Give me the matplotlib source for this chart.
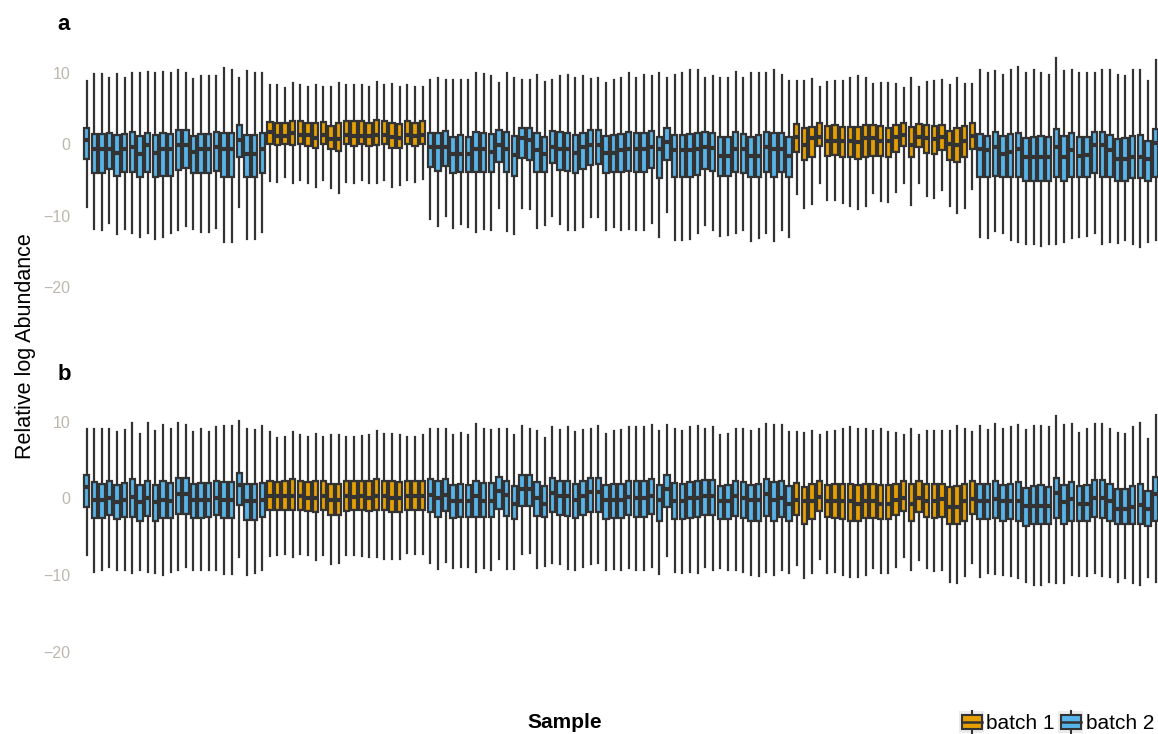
import matplotlib
matplotlib.use("Agg")
import matplotlib.pyplot as plt
from matplotlib.patches import Rectangle
from matplotlib.lines import Line2D
from matplotlib.legend_handler import HandlerBase

plt.rcParams['font.family'] = ['Liberation Sans', 'DejaVu Sans']

# ---------------- data ----------------
batch = [2]*24 + [1]*21 + [2]*48 + [1]*24 + [2]*24

# panel a
a_hi = [8.8, 9.8, 9.8, 9.2, 9.8, 9.3, 10.0, 9.9, 10.1, 10.0, 10.1, 10.0, 10.3, 10.0, 9.1, 9.5, 9.5, 9.5, 10.7, 10.4, 9.3, 10.2, 10.0, 9.9,
        8.3, 8.2, 7.9, 8.5, 8.2, 8.0, 8.3, 8.0, 8.0, 8.5, 8.2, 8.3, 8.2, 8.0, 8.7, 8.2, 8.4, 8.0, 8.3, 8.0, 8.0,
        9.0, 9.3, 9.0, 9.0, 9.0, 9.0, 9.9, 9.8, 9.5, 8.5, 10.0, 9.3, 9.0, 9.0, 9.6, 8.7, 9.0, 9.5, 9.7, 9.3, 9.5, 9.1, 9.2, 8.5,
        9.0, 9.3, 9.9, 9.3, 9.7, 9.5, 9.9, 9.3, 9.7, 10.0, 10.4, 10.3, 9.3, 9.5, 9.3, 9.3, 10.1, 9.3, 10.0, 10.0, 10.0, 10.3, 9.7, 8.8,
        8.8, 8.8, 9.1, 8.0, 8.7, 8.8, 8.8, 9.2, 9.5, 9.3, 8.4, 8.5, 8.5, 8.4, 7.9, 9.2, 8.0, 8.7, 8.8, 9.0, 8.3, 9.3, 8.4, 8.4,
        10.4, 10.0, 10.2, 9.7, 10.3, 10.8, 9.9, 10.4, 10.0, 9.7, 12.0, 10.2, 10.3, 9.9, 9.9, 9.9, 10.4, 10.3, 9.6, 9.5, 10.3, 10.3, 8.8, 11.7]
a_q3 = [2.2, 1.35, 1.35, 1.5, 1.26, 1.35, 1.7, 1.07, 1.6, 1.26, 1.6, 1.35, 1.96, 1.96, 1.07, 1.4, 1.35, 1.7, 1.5, 1.5, 2.6, 1.2, 1.2, 1.5,
        3.1, 3.0, 3.0, 3.26, 3.26, 3.0, 3.0, 3.1, 2.5, 2.9, 3.2, 3.2, 3.2, 3.0, 3.3, 3.2, 3.0, 2.8, 3.26, 3.0, 3.2,
        1.6, 1.5, 1.86, 1.0, 1.2, 1.0, 1.68, 1.5, 1.35, 1.96, 1.68, 1.07, 2.3, 2.2, 1.5, 0.93, 1.8, 1.68, 1.5, 1.26, 1.5, 1.96, 1.96, 1.1,
        1.2, 1.4, 1.68, 1.5, 1.5, 1.8, 1.0, 2.3, 1.3, 1.2, 1.35, 1.5, 1.68, 1.5, 1.0, 1.0, 1.68, 1.35, 1.0, 1.2, 1.68, 1.5, 1.5, 0.93,
        2.8, 2.2, 2.4, 3.0, 2.5, 2.6, 2.4, 2.4, 2.4, 2.6, 2.6, 2.5, 2.3, 2.6, 3.0, 2.4, 2.8, 2.6, 2.5, 2.6, 1.86, 2.3, 2.5, 2.9,
        1.35, 1.1, 1.68, 1.1, 1.35, 1.5, 0.8, 1.0, 1.1, 1.0, 2.05, 1.1, 1.5, 1.0, 1.0, 1.7, 1.7, 1.26, 0.65, 0.8, 1.1, 1.26, 0.47, 2.05]
a_med = [0.56, -0.75, -0.75, -0.65, -1.3, -0.75, -0.37, -1.45, -0.14, -1.3, -0.75, -0.75, -0.14, -0.14, -1.1, -0.75, -0.75, -0.47, -0.75, -0.75, 0.56, -1.45, -1.45, -0.65,
         1.7, 1.1, 1.1, 1.5, 1.26, 1.26, 0.8, 1.26, 0.65, 0.65, 1.26, 1.1, 1.1, 1.1, 1.26, 1.26, 0.93, 0.8, 1.26, 1.1, 1.26,
         -0.37, -0.37, -0.37, -1.45, -1.45, -1.45, -0.75, -0.75, -1.07, -0.14, -0.75, -1.5, 0.8, 0.56, -0.84, -1.45, -0.37, -0.75, -0.75, -1.3, -0.37, -0.14, -0.14, -1.2,
         -1.2, -0.84, -0.75, -0.75, -0.75, -0.37, -0.75, 0.33, -0.84, -0.84, -0.84, -0.75, -0.37, -0.5, -1.6, -1.6, -0.75, -0.75, -1.6, -1.6, -0.37, -0.75, -0.75, -1.6,
         0.93, -0.14, 0.8, 0.93, 0.47, 0.47, 0.47, 0.47, 0.33, 0.8, 0.8, 0.47, 0.47, 0.93, 1.26, -0.14, 0.93, 0.8, 0.65, 0.93, -0.05, -0.14, 0.47, 1.1,
         -0.75, -0.84, -0.37, -1.45, -1.07, -0.75, -1.77, -1.77, -1.77, -1.77, -0.37, -1.77, -0.84, -1.7, -1.5, -0.14, -0.14, -0.84, -2.05, -2.05, -1.77, -1.77, -2.05, 0.1]
a_q1 = [-2.1, -4.1, -4.1, -3.5, -4.4, -3.9, -3.9, -4.66, -3.9, -4.66, -4.4, -4.4, -3.6, -3.3, -4.06, -4.0, -4.0, -3.7, -4.66, -4.66, -1.86, -4.66, -4.66, -4.06,
        -0.05, -0.14, -0.05, -0.14, -0.05, -0.28, -0.5, -0.05, -0.75, -0.93, -0.05, -0.28, -0.05, -0.28, -0.14, -0.05, -0.5, -0.5, -0.05, -0.28, -0.05,
        -3.2, -3.8, -3.0, -4.06, -3.9, -3.9, -3.9, -3.9, -3.9, -2.5, -3.9, -4.5, -2.0, -2.2, -3.9, -3.9, -2.7, -3.6, -3.7, -4.06, -3.5, -2.9, -2.8, -4.1,
        -3.9, -3.9, -3.7, -3.9, -3.9, -3.3, -4.8, -2.2, -4.6, -4.6, -4.6, -4.3, -3.45, -3.7, -4.4, -4.4, -3.9, -4.06, -4.66, -4.66, -3.9, -4.66, -3.9, -4.66,
        -1.07, -2.2, -1.77, -0.23, -1.6, -1.5, -1.77, -1.86, -2.1, -1.77, -1.7, -1.6, -1.77, -1.07, -0.23, -1.86, -0.37, -1.2, -1.4, -0.84, -2.2, -2.5, -1.86, -0.75,
        -4.66, -4.66, -4.5, -4.66, -4.66, -4.66, -5.1, -5.1, -5.1, -5.1, -4.66, -5.1, -4.66, -4.66, -4.66, -4.0, -4.6, -4.66, -5.1, -5.1, -4.8, -4.8, -5.1, -4.6]
a_lo = [-8.8, -11.9, -12.0, -11.1, -12.6, -11.9, -12.4, -13.05, -12.4, -13.3, -13.0, -12.5, -12.0, -11.5, -11.9, -12.3, -12.3, -11.8, -13.7, -13.7, -8.8, -13.3, -13.3, -12.3,
        -5.2, -5.3, -4.6, -5.4, -5.0, -5.4, -6.0, -5.0, -6.2, -6.8, -5.3, -5.4, -5.0, -5.4, -5.5, -5.0, -6.0, -5.7, -5.0, -5.3, -4.9,
        -10.5, -11.4, -10.1, -11.7, -11.2, -11.6, -12.3, -11.9, -12.0, -8.9, -12.2, -12.6, -8.9, -9.1, -11.7, -11.3, -10.0, -11.2, -12.0, -12.0, -11.6, -10.2, -10.2, -12.0,
        -11.6, -12.0, -11.9, -12.0, -12.0, -11.1, -13.0, -9.5, -13.4, -13.4, -13.3, -12.5, -11.3, -12.0, -12.9, -12.7, -12.4, -12.0, -13.6, -13.2, -12.4, -13.6, -12.0, -13.0,
        -7.0, -8.9, -8.4, -5.4, -7.8, -7.8, -8.2, -8.6, -9.1, -8.6, -6.9, -8.0, -8.1, -6.7, -5.4, -8.5, -5.4, -7.2, -7.6, -6.4, -8.6, -9.6, -8.9, -6.3,
        -13.0, -13.1, -12.2, -12.5, -13.4, -13.7, -14.0, -14.0, -14.3, -14.0, -14.0, -13.7, -13.2, -13.0, -12.8, -12.4, -14.0, -13.7, -13.8, -13.4, -14.0, -14.4, -13.7, -13.4]

# panel b
b_hi = [9.1, 9.1, 9.0, 9.0, 8.6, 8.9, 9.8, 8.4, 9.8, 8.8, 9.5, 9.0, 9.8, 9.5, 8.6, 9.0, 8.6, 9.3, 9.4, 9.4, 10.1, 9.0, 8.9, 9.4,
        8.6, 7.9, 8.0, 8.6, 8.3, 8.0, 8.4, 8.0, 8.3, 8.3, 8.0, 8.0, 8.1, 8.3, 8.8, 8.4, 8.4, 8.2, 8.0, 8.0, 8.3,
        9.0, 9.0, 9.1, 8.2, 8.5, 8.2, 9.7, 9.0, 8.9, 9.1, 9.0, 8.3, 9.4, 9.1, 8.8, 7.9, 9.3, 8.9, 9.3, 8.7, 8.9, 9.1, 9.4, 8.4,
        8.8, 8.9, 9.3, 9.3, 9.3, 9.5, 8.8, 9.5, 9.1, 8.8, 9.3, 9.4, 9.1, 9.3, 8.2, 8.4, 9.1, 9.0, 8.8, 9.1, 9.7, 9.5, 9.5, 8.6,
        8.6, 8.5, 8.8, 8.3, 8.7, 8.8, 9.0, 9.3, 9.0, 9.1, 8.8, 9.0, 8.7, 8.5, 8.3, 9.0, 8.3, 8.8, 8.8, 8.8, 8.8, 9.4, 9.1, 8.7,
        9.4, 8.9, 9.7, 9.0, 9.3, 9.5, 8.9, 9.4, 9.4, 9.3, 10.7, 9.5, 9.7, 8.5, 9.1, 9.7, 9.7, 9.1, 8.5, 8.4, 9.3, 9.8, 7.7, 10.9]
b_q3 = [3.0, 2.1, 1.9, 2.2, 1.7, 2.0, 2.5, 1.7, 2.3, 1.7, 2.2, 2.0, 2.6, 2.6, 1.8, 2.0, 2.0, 2.3, 2.1, 2.1, 3.3, 1.8, 1.8, 2.0,
        2.3, 2.1, 2.2, 2.5, 2.3, 2.1, 2.2, 2.2, 1.9, 1.9, 2.2, 2.2, 2.3, 2.2, 2.5, 2.3, 2.2, 2.1, 2.3, 2.2, 2.3,
        2.5, 2.3, 2.5, 1.7, 1.9, 1.7, 2.3, 2.0, 2.0, 2.8, 2.3, 1.6, 3.1, 3.0, 2.1, 1.6, 2.6, 2.2, 2.2, 1.8, 2.2, 2.6, 2.6, 1.7,
        1.9, 1.9, 2.3, 2.2, 2.2, 2.5, 1.7, 3.1, 2.0, 1.9, 2.1, 2.2, 2.4, 2.4, 1.6, 1.7, 2.3, 2.1, 1.7, 1.8, 2.5, 2.1, 2.2, 1.65,
        2.0, 1.5, 1.9, 2.3, 1.7, 1.8, 1.8, 1.8, 1.7, 1.9, 1.9, 1.7, 1.7, 1.9, 2.2, 1.9, 2.2, 1.9, 1.9, 1.9, 1.5, 1.6, 1.8, 2.2,
        1.9, 1.8, 2.2, 1.7, 1.9, 2.1, 1.4, 1.6, 1.7, 1.5, 2.7, 1.7, 2.1, 1.65, 1.7, 2.35, 2.35, 1.8, 1.2, 1.2, 1.6, 1.8, 1.0, 2.8]
b_med = [1.5, -0.2, -0.2, 0.0, -0.5, -0.2, 0.2, -0.5, 0.1, -0.5, -0.2, -0.4, 0.5, 0.5, -0.2, -0.2, -0.2, 0.0, -0.2, -0.2, 1.7, -0.35, -0.35, -0.2,
         0.35, 0.35, 0.35, 0.35, 0.35, 0.1, 0.1, 0.35, -0.2, -0.2, 0.35, 0.2, 0.35, 0.1, 0.35, 0.35, 0.1, 0.1, 0.35, 0.35, 0.35,
         0.4, 0.0, 0.4, -0.4, -0.4, -0.4, 0.35, -0.4, -0.4, 0.9, 0.4, -0.7, 1.2, 1.2, 0.0, -0.8, 0.65, 0.35, 0.35, -0.2, 0.35, 0.8, 0.8, -0.2,
         -0.2, -0.2, 0.2, 0.0, 0.0, 0.35, -0.2, 1.2, -0.4, -0.4, 0.0, 0.0, 0.35, 0.35, -0.35, -0.35, 0.35, 0.0, -0.2, -0.2, 0.5, -0.2, 0.0, -0.7,
         -0.2, -0.4, -0.4, 0.2, -0.4, -0.4, -0.4, -0.4, -0.7, -0.4, -0.4, -0.7, -0.7, -0.2, 0.0, -0.7, 0.0, -0.4, -0.4, -0.1, -1.1, -1.1, -0.4, -0.1,
         -0.4, -0.4, -0.1, -0.4, -0.4, -0.4, -1.0, -1.0, -1.0, -1.0, 0.65, -0.55, -0.1, -0.7, -0.7, 0.0, 0.0, -0.4, -1.4, -1.4, -1.1, -0.9, -1.4, 0.5]
b_q1 = [-1.1, -2.6, -2.6, -2.2, -2.7, -2.5, -2.4, -2.9, -2.3, -2.9, -2.6, -2.6, -2.0, -2.0, -2.6, -2.6, -2.5, -2.2, -2.6, -2.6, -0.9, -2.8, -2.8, -2.5,
        -1.5, -1.5, -1.5, -1.5, -1.5, -1.65, -1.8, -1.5, -2.2, -2.2, -1.65, -1.5, -1.5, -1.7, -1.5, -1.5, -1.8, -1.8, -1.5, -1.5, -1.5,
        -1.8, -2.4, -1.7, -2.6, -2.5, -2.5, -2.5, -2.5, -2.5, -1.4, -2.3, -2.7, -1.0, -1.0, -2.3, -2.5, -1.8, -2.2, -2.3, -2.6, -2.2, -1.8, -1.8, -2.7,
        -2.6, -2.6, -2.2, -2.5, -2.5, -2.1, -2.9, -1.2, -2.7, -2.7, -2.6, -2.4, -2.2, -2.2, -2.7, -2.7, -2.3, -2.6, -2.9, -2.9, -2.3, -2.9, -2.4, -3.0,
        -2.2, -3.3, -2.7, -1.65, -2.4, -2.6, -2.7, -3.0, -3.0, -2.6, -2.6, -2.7, -2.7, -2.2, -1.65, -2.9, -1.8, -2.4, -2.6, -2.4, -3.4, -3.4, -2.9, -2.0,
        -2.7, -2.7, -2.6, -3.0, -2.7, -2.9, -3.6, -3.4, -3.4, -3.4, -2.6, -3.4, -2.9, -3.0, -3.0, -2.4, -2.6, -3.0, -3.4, -3.4, -3.4, -3.3, -3.6, -3.0]
b_lo = [-7.4, -9.6, -9.3, -9.0, -9.3, -9.4, -9.7, -9.4, -9.6, -9.7, -10.0, -9.6, -9.3, -8.9, -9.4, -9.4, -9.3, -9.3, -9.9, -9.9, -7.6, -10.0, -9.7, -9.4,
        -7.5, -7.4, -7.3, -7.6, -7.3, -7.4, -8.0, -7.4, -8.6, -8.5, -7.4, -7.4, -7.5, -7.7, -7.6, -7.9, -7.9, -7.9, -7.1, -7.3, -7.3,
        -8.5, -9.2, -8.3, -9.1, -9.0, -8.9, -9.6, -9.1, -9.3, -7.9, -9.2, -9.2, -7.3, -7.1, -9.1, -8.8, -8.4, -8.6, -9.2, -9.4, -9.0, -8.6, -8.5, -9.3,
        -9.2, -9.4, -9.1, -9.3, -9.3, -9.0, -9.9, -7.5, -9.6, -9.8, -9.6, -9.8, -8.9, -9.3, -9.1, -9.3, -9.4, -9.6, -10.0, -10.1, -9.6, -10.0, -9.4, -9.8,
        -8.7, -10.4, -9.8, -7.9, -9.7, -9.6, -10.0, -10.3, -10.3, -10.0, -9.1, -9.8, -9.8, -8.9, -7.7, -9.4, -8.0, -9.1, -9.5, -9.3, -10.9, -11.1, -10.1, -8.5,
        -10.3, -9.8, -9.9, -10.0, -10.2, -10.4, -10.9, -11.3, -11.3, -10.9, -11.0, -11.0, -10.0, -10.1, -10.2, -9.8, -10.1, -10.3, -10.9, -10.4, -11.1, -11.3, -10.3, -10.9]

y_ticks = [-20, -10, 0, 10]
y_ticklabels = ['\u221220', '\u221210', '0', '10']
panel_labels = ['a', 'b']
legend_labels = ['batch 1', 'batch 2']

# ---------------- style ----------------
W, H = 1158, 734
COL = {1: '#E69F00', 2: '#56B4E9'}
EDGE = '#333333'
TICKCOL = '#BDB7AF'

fig = plt.figure(figsize=(W / 100, H / 100), dpi=100)
fig.patch.set_facecolor('white')


def px_axes(left, top, right, bottom):
    return fig.add_axes([left / W, 1 - bottom / H, (right - left) / W, (bottom - top) / H])


def draw_panel(ax, lo, q1, med, q3, hi, ylim):
    stats = []
    for i in range(len(med)):
        stats.append(dict(whislo=lo[i], q1=q1[i], med=med[i], q3=q3[i], whishi=hi[i], fliers=[]))
    pos = list(range(len(med)))
    bp = ax.bxp(stats, positions=pos, widths=0.7, patch_artist=True,
                showfliers=False, showcaps=False,
                boxprops=dict(edgecolor=EDGE, linewidth=1.6),
                whiskerprops=dict(color=EDGE, linewidth=1.6),
                medianprops=dict(color=EDGE, linewidth=3.0, solid_capstyle='butt'),
                manage_ticks=False)
    for patch, b in zip(bp['boxes'], batch):
        patch.set_facecolor(COL[b])
    ax.set_xlim(-0.6, len(med) - 0.7)
    ax.set_ylim(*ylim)
    ax.set_yticks(y_ticks)
    ax.set_yticklabels(y_ticklabels)
    ax.set_xticks([])
    ax.tick_params(axis='y', length=0, pad=8.5, labelsize=11.5, labelcolor=TICKCOL)
    for s in ax.spines.values():
        s.set_visible(False)
    ax.set_facecolor('none')


ax_a = px_axes(82, 50, 1158, 300)
draw_panel(ax_a, a_lo, a_q1, a_med, a_q3, a_hi, (-21.8, 13.15))
ax_b = px_axes(82, 395, 1158, 670)
draw_panel(ax_b, b_lo, b_q1, b_med, b_q3, b_hi, (-22.4, 13.47))

# panel labels
fig.text(64 / W, 1 - 24 / H, panel_labels[0], fontsize=16, fontweight='bold', ha='center', va='center')
fig.text(64 / W, 1 - 374 / H, panel_labels[1], fontsize=16, fontweight='bold', ha='center', va='center')

# axis titles
fig.text(25.5 / W, 1 - 346 / H, 'Relative log Abundance', rotation=90, fontsize=15.5,
         ha='center', va='center')
fig.text(565 / W, 1 - 722 / H, 'Sample', fontsize=15, fontweight='bold', ha='center', va='center')


# legend with boxplot glyph keys
class BoxKey(HandlerBase):
    def create_artists(self, legend, orig_handle, xdescent, ydescent, width, height, fontsize, trans):
        x0, y0 = -xdescent, -ydescent
        bg = Rectangle((x0, y0), width, height, facecolor='#EBEBEB', edgecolor='none', transform=trans)
        cx = x0 + width / 2
        wl = Line2D([cx, cx], [y0, y0 + height], color=EDGE, linewidth=1.5, transform=trans)
        bx = Rectangle((x0 + width * 0.1, y0 + height * 0.18), width * 0.8, height * 0.64,
                       facecolor=orig_handle.get_facecolor(), edgecolor=EDGE, linewidth=1.5, transform=trans)
        md = Line2D([x0 + width * 0.1, x0 + width * 0.9], [y0 + height / 2] * 2, color=EDGE,
                    linewidth=1.8, transform=trans)
        return [bg, wl, bx, md]


handles = [Rectangle((0, 0), 1, 1, facecolor=COL[1]), Rectangle((0, 0), 1, 1, facecolor=COL[2])]
leg = fig.legend(handles, legend_labels, handler_map={Rectangle: BoxKey()},
                 loc='center right', bbox_to_anchor=(1154 / W, 1 - 722 / H), ncol=2,
                 frameon=False, fontsize=15, handlelength=1.2, handleheight=1.3,
                 handletextpad=0.12, columnspacing=0.15, borderpad=0, borderaxespad=0)

fig.savefig('out.png', dpi=100, facecolor='white')
